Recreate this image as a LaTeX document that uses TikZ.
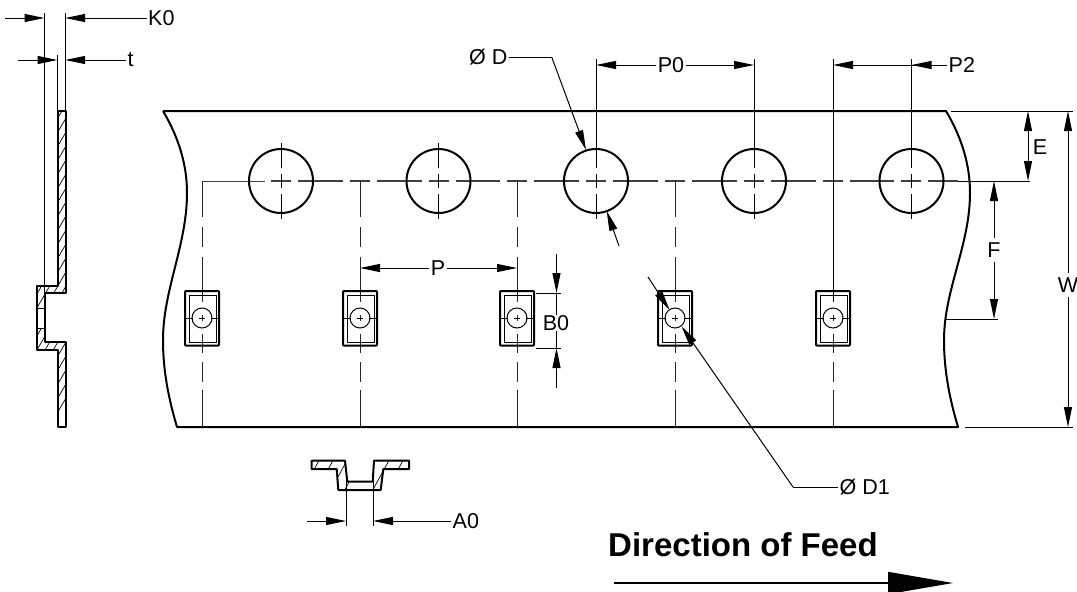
\documentclass[tikz,border=0pt]{standalone}
\usepackage{fontspec}
\setmainfont{Liberation Sans}
\usetikzlibrary{arrows.meta}
\begin{document}
\begin{tikzpicture}[
    x=1pt, y=-1pt,
    outline/.style={line width=2pt, line join=round},
    thin line/.style={line width=1pt},
    center line/.style={line width=1.1pt, black!75, dash pattern=on 20pt off 7pt on 44.8pt off 7pt},
    pocket line/.style={line width=1pt, black!85, dash pattern=on 36pt off 10pt on 20pt off 10pt on 45pt off 13pt on 6pt off 13pt on 19pt off 9pt on 20pt off 8pt on 37pt},
    hatch line/.style={line width=0.7pt},
    dim/.style={line width=1pt, -{Triangle[length=20pt,width=8pt]}},
    label/.style={font=\fontsize{21.5}{25}\selectfont, inner sep=1.5pt, inner ysep=4pt}
]
    \useasboundingbox (0,0) rectangle (1077,592);

    % Tape
    \draw[outline] (163,111) -- (946,111)
        .. controls (962,138) and (970,165) .. (970,193)
        .. controls (970,245) and (944,290) .. (944,340)
        .. controls (944,372) and (950,400) .. (958,427)
        -- (177,427)
        .. controls (169,400) and (163,372) .. (163,340)
        .. controls (163,290) and (187,245) .. (187,193)
        .. controls (187,165) and (179,138) .. (163,111);

    % Center lines
    \coordinate (start) at (202,181);
    \draw[thin line, black!75] (start) -- (265,181);
    \draw[center line] (271,181) -- (958,181);
    \foreach \i/\x in {1/202,2/360,3/517,4/675,5/833} {
        \coordinate (pocket\i) at (\x,318);
        \draw[pocket line] (\x,181) -- (\x,427);
    }

    % Holes
    \foreach \i/\x in {1/281,2/438.5,3/596,4/754,5/911.5} {
        \coordinate (hole\i) at (\x,181);
        \draw[outline] (hole\i) circle (32);
        \draw[thin line] (\x,143) -- (\x,168) (\x,174) -- (\x,188) (\x,194) -- (\x,219);
    }

    % Pockets
    \foreach \i in {1,...,5} {
        \begin{scope}[shift={(pocket\i)}]
            \draw[outline, rounded corners=0.8pt] (-17,-27) rectangle (17,27.5);
            \draw[thin line] (-12.5,-22.5) rectangle (14.5,24.5);
            \draw[thin line] (0,0) circle (10);
            \draw[thin line] (-17,0) -- (-9,0) (-3,0) -- (3,0) (9,0) -- (17,0);
        \end{scope}
    }

    % Side section
    \begin{scope}
        \clip (57.5,111) -- (65.7,111) -- (65.7,293) -- (45,293) -- (45,341.7) -- (65.7,341.7)
            -- (65.7,427) -- (57.5,427) -- (57.5,350) -- (36.7,350) -- (36.7,286) -- (57.5,286) -- cycle;
        \foreach \y in {110,124,...,460}
            \draw[hatch line] (30,\y) -- (70,\y-69);
        \fill[white] (37,308) rectangle (44.5,328);
    \end{scope}
    \draw[outline] (57.5,111) -- (65.7,111) -- (65.7,293) -- (45,293) -- (45,341.7) -- (65.7,341.7)
        -- (65.7,427) -- (57.5,427) -- (57.5,350) -- (36.7,350) -- (36.7,286) -- (57.5,286) -- cycle;
    \draw[thin line] (37,308) -- (44.5,308) (37,328) -- (44.5,328);

    % Lower section
    \begin{scope}
        \clip (311.7,460.7) -- (345,460.7) -- (347.3,481.7) -- (372.7,481.7) -- (374,460.7) -- (409,460.7) -- (409,469)
            -- (383.3,469) -- (380.7,490) -- (338.3,490) -- (336.7,469) -- (311.7,469) -- cycle;
        \foreach \x in {300,314,...,420}
            \draw[hatch line] (\x,495) -- (\x+22,455);
        \fill[white] (349,482) rectangle (371,490);
    \end{scope}
    \draw[outline] (311.7,460.7) -- (345,460.7) -- (347.3,481.7) -- (372.7,481.7) -- (374,460.7) -- (409,460.7) -- (409,469)
        -- (383.3,469) -- (380.7,490) -- (338.3,490) -- (336.7,469) -- (311.7,469) -- cycle;

    % Labels
    \node[label, anchor=west] (k0) at (146.5,18) {K0};
    \node[label, anchor=west] (t) at (126,60) {t};
    \node[label] (p0lab) at (671,65) {P0};
    \node[label, anchor=west] (p2) at (947,65) {P2};
    \node[label, anchor=east] (dlab) at (509,57) {Ø D};
    \node[label] (plab) at (438,268) {P};
    \node[label, fill=white, inner sep=0.5pt] (b0) at (556,323) {B0};
    \node[label] (e) at (1040,147) {E};
    \node[label] (f) at (994,250) {F};
    \node[label] (w) at (1068,285) {W};
    \node[label, anchor=west] (a0) at (451,521) {A0};
    \node[label, anchor=west] (d1lab) at (838,487) {Ø D1};
    \node[font=\bfseries\fontsize{33}{38}\selectfont, inner sep=0pt] (feed) at (743,545) {Direction of Feed};

    % Extension lines
    \draw[thin line] (44.5,13) -- (44.5,308);
    \draw[thin line] (65.2,13) -- (65.2,111);
    \draw[thin line] (57.5,55) -- (57.5,111);
    \draw[thin line] (346,481) -- (346,526);
    \draw[thin line] (373,481) -- (373,526);
    \draw[thin line] (hole3 |- p0lab) ++(0,-6) -- (596,168);
    \draw[thin line] (hole4 |- p0lab) ++(0,-6) -- (754,168);
    \draw[thin line] (pocket5 |- p0lab) ++(0,-6) -- (833,302);
    \draw[thin line] (hole5 |- p0lab) ++(0,-6) -- (911.5,168);
    \draw[thin line] (536,293) -- (561,293);
    \draw[thin line] (536,348) -- (561,348);
    \draw[thin line] (951,111) -- (1073,111);
    \draw[thin line] (965,427) -- (1073,427);
    \draw[thin line] (945,319) -- (998,319);
    \draw[thin line] (958,181) -- (1030,181);

    % Arrows
    \coordinate (k0start) at (5,18);
    \draw[dim] (k0start) -- (44.5,18);
    \draw[dim] (k0) -- (65.2,18);
    \coordinate (tstart) at (18,60);
    \draw[dim] (tstart) -- (57.5,60);
    \draw[dim] (t) -- (65.2,60);
    \draw[dim] (p0lab) -- (hole3 |- p0lab);
    \draw[dim] (p0lab) -- (hole4 |- p0lab);
    \draw[dim] (p2) -- (hole5 |- p2);
    \draw[dim] (p2) -- (pocket5 |- p2);
    \draw[dim] (plab) -- (pocket2 |- plab);
    \draw[dim] (plab) -- (pocket3 |- plab);
    \coordinate (a0start) at (307,521);
    \draw[dim] (a0start) -- (346,521);
    \draw[dim] (a0) -- (373,521);
    \coordinate (b0top) at (556.5,254);
    \coordinate (b0bot) at (556.5,388);
    \draw[dim] (b0top) -- (556.5,293);
    \draw[dim] (b0bot) -- (556.5,348);
    \draw[thin line] (b0.north -| b0top) -- (b0top |- 0,293);
    \draw[thin line] (b0.south -| b0top) -- (b0top |- 0,348);
    \draw[dim] (e) ++(-12,0) coordinate (emid) -- (1028,111);
    \draw[dim] (emid) -- (1028,181);
    \draw[dim] (f) -- (994,181);
    \draw[dim] (f) -- (994,319);
    \draw[dim] (w) -- (1068,111);
    \draw[dim] (w) -- (1068,427);

    % Leaders
    \coordinate (dknee) at (551.7,57);
    \coordinate (dend) at (619,246);
    \draw[thin line] (dlab) -- (dknee);
    \draw[dim] (dknee) -- (586,150);
    \draw[dim] (dend) -- (606.7,211);
    \coordinate (d1knee) at (793,487);
    \coordinate (d1end) at (648,277);
    \draw[thin line] (d1lab) -- (d1knee);
    \draw[dim] (d1knee) -- (681.4,326.2);
    \draw[dim] (d1end) -- (669.6,310);

    % Feed arrow
    \coordinate (feedstart) at (614,583);
    \coordinate (feedend) at (953,583);
    \draw[line width=1.5pt, -{Triangle[length=65pt,width=22pt]}] (feedstart) -- (feedend);
\end{tikzpicture}
\end{document}
